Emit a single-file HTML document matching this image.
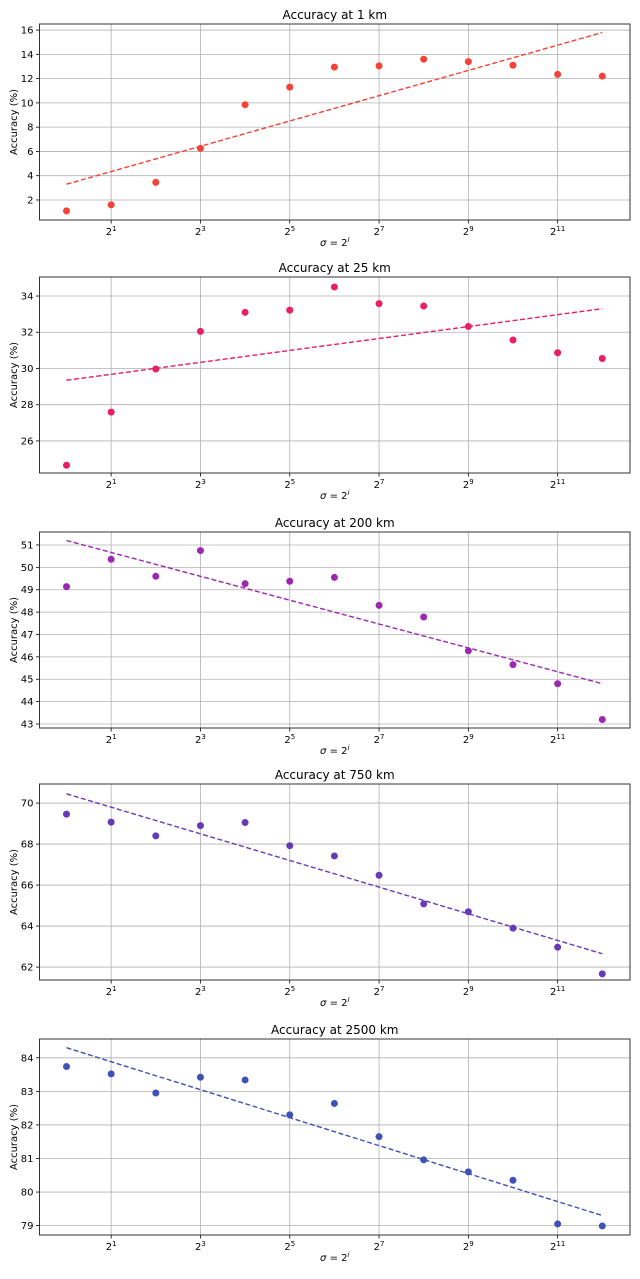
<!DOCTYPE html>
<html><head><meta charset="utf-8"><style>
body{margin:0;background:#fff;}
svg{display:block;font-family:"DejaVu Sans","Liberation Sans",sans-serif;}
</style></head><body>
<svg id="fig" width="640" height="1279" xmlns="http://www.w3.org/2000/svg"></svg>
<script>
const xExps = [0,1,2,3,4,5,6,7,8,9,10,11,12];
const xTickExps = [1,3,5,7,9,11];
const titles = ["Accuracy at 1 km","Accuracy at 25 km","Accuracy at 200 km","Accuracy at 750 km","Accuracy at 2500 km"];
const colors = ["#f44336","#e91e63","#9c27b0","#673ab7","#3f51b5"];
const acc1 = [1.1,1.6,3.45,6.25,9.85,11.3,12.95,13.05,13.6,13.4,13.1,12.35,12.2];
const acc25 = [24.66,27.59,29.97,32.05,33.1,33.22,34.5,33.58,33.45,32.32,31.57,30.87,30.55];
const acc200 = [49.14,50.36,49.6,50.75,49.27,49.38,49.55,48.3,47.78,46.27,45.65,44.8,43.2];
const acc750 = [69.46,69.07,68.4,68.9,69.05,67.92,67.42,66.48,65.08,64.7,63.9,62.97,61.67];
const acc2500 = [83.74,83.52,82.95,83.42,83.34,82.3,82.64,81.65,80.96,80.6,80.35,79.05,78.99];
const trendStart = [3.3,29.35,51.2,70.45,84.3];
const trendEnd = [15.8,33.3,44.8,62.65,79.3];
const yTicks1 = [2,4,6,8,10,12,14,16];
const yTicks25 = [26,28,30,32,34];
const yTicks200 = [43,44,45,46,47,48,49,50,51];
const yTicks750 = [62,64,66,68,70];
const yTicks2500 = [79,80,81,82,83,84];
const yMins = [0.35,24.23,42.82,61.37,78.72];
const yMaxs = [16.5,35.05,51.58,70.93,84.56];

const series=[acc1,acc25,acc200,acc750,acc2500];
const yTickSets=[yTicks1,yTicks25,yTicks200,yTicks750,yTicks2500];
const tops=[24,277,532,784,1039];
const L=39.5,R=630,H=196;
const NS="http://www.w3.org/2000/svg";
const svg=document.getElementById('fig');
function mk(t,a,p){const e=document.createElementNS(NS,t);for(const k in a)e.setAttribute(k,a[k]);(p||svg).appendChild(e);return e;}
const xs=i=>66.5+i*44.65;
for(let p=0;p<5;p++){
  const top=tops[p],bot=top+H;
  const g=mk('g',{});
  
  
  const ys=v=>bot-(v-yMins[p])/(yMaxs[p]-yMins[p])*H;
  xTickExps.forEach(e=>{
    const x=xs(e);
    const gl=mk('line',{x1:x,x2:x,y1:top,y2:bot,stroke:'#b0b0b0','stroke-width':0.8},g);
    
    
    mk('line',{x1:x,x2:x,y1:bot,y2:bot+3.5,stroke:'#000','stroke-width':0.8},g);
    const t=mk('text',{x:x,y:bot+15,'font-size':10,'text-anchor':'middle'},g);
    
    
    t.innerHTML='2<tspan dy="-4" font-size="7">'+e+'</tspan>';
  });
  yTickSets[p].forEach(v=>{
    const y=ys(v);
    const gl=mk('line',{x1:L,x2:R,y1:y,y2:y,stroke:'#b0b0b0','stroke-width':0.8},g);
    
    
    mk('line',{x1:L-3.5,x2:L,y1:y,y2:y,stroke:'#000','stroke-width':0.8},g);
    const t=mk('text',{x:L-6,y:y+3.5,'font-size':10,'text-anchor':'end'},g);
    
    
    t.textContent=v;
  });
  const tr=mk('line',{x1:xs(xExps[0]),y1:ys(trendStart[p]),x2:xs(xExps[xExps.length-1]),y2:ys(trendEnd[p]),stroke:colors[p],'stroke-width':1.4,'stroke-dasharray':'5,2.5'},g);
  
  
  series[p].forEach((v,i)=>{
    const c=mk('circle',{cx:xs(xExps[i]),cy:ys(v),r:3.5,fill:colors[p]},g);
    
    
  });
  const fr=mk('rect',{x:L,y:top,width:R-L,height:H,fill:'none',stroke:'#333','stroke-width':1},g);
  
  
  const ti=mk('text',{x:(L+R)/2,y:top-5,'font-size':12,'text-anchor':'middle'},g);
  
  
  ti.textContent=titles[p];
  const xl=mk('text',{x:(L+R)/2,y:bot+26,'font-size':10,'text-anchor':'middle'},g);
  
  
  xl.innerHTML='<tspan font-style="italic">σ</tspan> = 2<tspan dy="-4" font-size="7" font-style="italic">i</tspan>';
  const yl=mk('text',{x:0,y:0,'font-size':10,'text-anchor':'middle',transform:'translate(17,'+(top+H/2)+') rotate(-90)'},g);
  
  
  yl.textContent='Accuracy (%)';
}
</script>
</body></html>
